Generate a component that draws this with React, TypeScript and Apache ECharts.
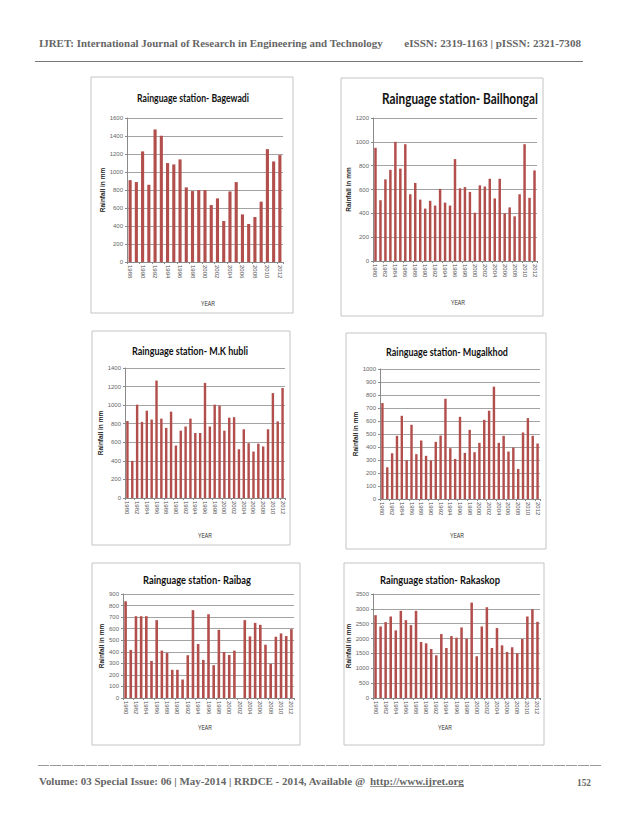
import React, { useEffect, useRef } from "react";
import * as echarts from "echarts";

// ---------- DATA ----------
const yearsBagewadi = ["1988","1989","1990","1991","1992","1993","1994","1995","1996","1997","1998","1999","2000","2001","2002","2003","2004","2005","2006","2007","2008","2009","2010","2011","2012"];
const years1980 = ["1980","1981","1982","1983","1984","1985","1986","1987","1988","1989","1990","1991","1992","1993","1994","1995","1996","1997","1998","1999","2000","2001","2002","2003","2004","2005","2006","2007","2008","2009","2010","2011","2012"];

const rainBagewadi = [910, 888, 1229, 858, 1473, 1403, 1099, 1084, 1140, 829, 788, 799, 799, 633, 707, 455, 784, 888, 529, 422, 500, 670, 1254, 1117, 1188];
const rainBailhongal = [950, 510, 685, 765, 1000, 775, 980, 560, 655, 515, 440, 505, 465, 605, 490, 465, 855, 610, 620, 580, 405, 635, 625, 690, 525, 690, 400, 450, 375, 560, 980, 530, 760];
const rainMKHubli = [830, 400, 1005, 820, 940, 845, 1265, 855, 755, 930, 565, 725, 770, 855, 700, 700, 1240, 770, 1005, 995, 725, 865, 870, 525, 740, 590, 500, 585, 555, 740, 1130, 825, 1185];
const rainMugalkhod = [738, 244, 352, 486, 640, 298, 571, 345, 450, 332, 296, 440, 488, 771, 391, 308, 632, 355, 532, 360, 432, 609, 679, 864, 432, 486, 365, 396, 231, 512, 622, 486, 427];
const rainRaibag = [837, 416, 708, 708, 708, 321, 674, 410, 390, 244, 244, 160, 370, 760, 467, 330, 725, 284, 590, 398, 372, 410, 0, 674, 533, 650, 633, 461, 295, 530, 559, 536, 596];
const rainRakaskop = [2787, 2408, 2553, 2743, 2275, 2933, 2620, 2453, 2933, 1884, 1840, 1650, 1438, 2152, 1684, 2085, 2029, 2375, 1996, 3211, 1405, 2408, 3055, 1684, 2353, 1773, 1550, 1706, 1505, 1985, 2743, 2988, 2565];

const stationTitles = [
  "Rainguage station- Bagewadi",
  "Rainguage station- Bailhongal",
  "Rainguage station- M.K hubli",
  "Rainguage station- Mugalkhod",
  "Rainguage station- Raibag",
  "Rainguage station- Rakaskop",
];
const yAxisMax = [1600, 1200, 1400, 1000, 900, 3500];
const yAxisStep = [200, 200, 200, 100, 100, 500];
const yAxisName = "Rainfall in mm";
const xAxisName = "YEAR";

const headerLeft = "IJRET: International Journal of Research in Engineering and Technology";
const headerRight = "eISSN: 2319-1163 | pISSN: 2321-7308";
const footerLeft = "Volume: 03 Special Issue: 06 | May-2014 | RRDCE - 2014, Available @";
const footerUrl = "http://www.ijret.org";
const footerPage = "152";

// ---------- LAYOUT ----------
const panels = [
  { cats: yearsBagewadi, vals: rainBagewadi, box: [91, 77, 202, 236], grid: [127, 118, 156, 144], tXY: [193, 97], tW: 112, tFs: 12, yrXY: [208, 304], gap: 20 },
  { cats: years1980, vals: rainBailhongal, box: [341, 78, 202, 238], grid: [373, 118, 164, 143], tXY: [460, 98], tW: 156, tFs: 15, yrXY: [458, 303], gap: 20 },
  { cats: years1980, vals: rainMKHubli, box: [92, 331, 198, 214], grid: [125, 368, 160, 130], tXY: [190, 350], tW: 116, tFs: 12, yrXY: [205, 536], gap: 20 },
  { cats: years1980, vals: rainMugalkhod, box: [346, 333, 200, 216], grid: [380, 369, 160, 130], tXY: [447, 351], tW: 122, tFs: 12, yrXY: [457, 536], gap: 20 },
  { cats: years1980, vals: rainRaibag, box: [92, 563, 208, 182], grid: [123, 594, 171, 104], tXY: [197, 579], tW: 108, tFs: 12, yrXY: [205, 728], gap: 18 },
  { cats: years1980, vals: rainRakaskop, box: [344, 563, 200, 182], grid: [373, 594, 167, 104], tXY: [440, 579], tW: 120, tFs: 12, yrXY: [445, 728], gap: 21 },
];

const SERIF = "'Liberation Serif', 'Times New Roman', serif";
const TITLE_FONT = "Lato, 'Liberation Sans', sans-serif";
const SMALL_FONT = "'Liberation Sans', Arial, sans-serif";

let measureCtx: CanvasRenderingContext2D | null = null;
function measure(text: string, font: string): number {
  if (!measureCtx) measureCtx = document.createElement("canvas").getContext("2d");
  if (!measureCtx) return text.length * 5;
  measureCtx.font = font;
  return measureCtx.measureText(text).width;
}

function fitText(text: string, x: number, y: number, targetW: number, fs: number, family: string, weight: string, color: string, align: string) {
  const w = measure(text, `${weight} ${fs}px ${family}`);
  const sx = w > 0 ? targetW / w : 1;
  return {
    type: "text",
    x,
    y,
    scaleX: sx,
    scaleY: 1,
    silent: true,
    style: {
      text,
      fontSize: fs,
      fontFamily: family,
      fontWeight: weight,
      fill: color,
      textAlign: align,
      align,
      textVerticalAlign: "middle",
      verticalAlign: "middle",
    },
  };
}

export default function App() {
  const ref = useRef<HTMLDivElement>(null);

  useEffect(() => {
    if (!ref.current) return;
    const chart = echarts.init(ref.current, null, { renderer: "svg" });

    const grids: any[] = [];
    const xAxes: any[] = [];
    const yAxes: any[] = [];
    const series: any[] = [];
    const graphics: any[] = [];

    panels.forEach((p, i) => {
      grids.push({ left: p.grid[0], top: p.grid[1], width: p.grid[2], height: p.grid[3], containLabel: false });
      xAxes.push({
        type: "category",
        gridIndex: i,
        data: p.cats,
        axisLine: { show: true, lineStyle: { color: "#8a8a8a", width: 1 } },
        axisTick: { show: true, length: 2, lineStyle: { color: "#8a8a8a" } },
        axisLabel: { interval: 1, rotate: -90, fontSize: 6, color: "#555", fontFamily: SMALL_FONT, margin: 3 },
      });
      yAxes.push({
        type: "value",
        gridIndex: i,
        min: 0,
        max: yAxisMax[i],
        interval: yAxisStep[i],
        name: yAxisName,
        nameLocation: "middle",
        nameRotate: 90,
        nameGap: p.gap,
        nameTextStyle: { fontSize: 6.5, fontWeight: "bold", color: "#222", fontFamily: SMALL_FONT },
        axisLine: { show: true, lineStyle: { color: "#8a8a8a", width: 1 } },
        axisTick: { show: true, length: 2, lineStyle: { color: "#8a8a8a" } },
        axisLabel: { fontSize: 6, color: "#666", fontFamily: SMALL_FONT, margin: 4, formatter: (v: number) => String(v) },
        splitLine: { show: true, lineStyle: { color: "#8c8c8c", width: 0.8 } },
      });
      series.push({
        type: "bar",
        xAxisIndex: i,
        yAxisIndex: i,
        data: p.vals,
        barWidth: "50%",
        itemStyle: { color: "#B24F4C" },
      });
      graphics.push({
        type: "rect",
        shape: { x: p.box[0], y: p.box[1], width: p.box[2], height: p.box[3] },
        style: { fill: "none", stroke: "#c4c4c4", lineWidth: 1 },
        silent: true,
        z: 1,
      });
      graphics.push(fitText(stationTitles[i], p.tXY[0], p.tXY[1], p.tW, p.tFs, TITLE_FONT, "bold", "#111", "center"));
      graphics.push(fitText(xAxisName, p.yrXY[0], p.yrXY[1], 14, 6.5, SMALL_FONT, "normal", "#333", "center"));
    });

    // header
    graphics.push(fitText(headerLeft, 39, 44, 344, 10, SERIF, "bold", "#666", "left"));
    graphics.push(fitText(headerRight, 581, 44, 177, 10, SERIF, "bold", "#666", "right"));
    graphics.push({ type: "line", shape: { x1: 35, y1: 61.5, x2: 583, y2: 61.5 }, style: { stroke: "#777", lineWidth: 1 }, silent: true });

    // footer
    graphics.push({ type: "line", shape: { x1: 38, y1: 765.5, x2: 601, y2: 765.5 }, style: { stroke: "#9a9a9a", lineWidth: 1, lineDash: [11, 1] }, silent: true });
    graphics.push(fitText(footerLeft, 39, 782, 327, 10, SERIF, "bold", "#666", "left"));
    graphics.push(fitText(footerUrl, 370, 782, 94, 10, SERIF, "bold", "#666", "left"));
    graphics.push({ type: "line", shape: { x1: 370, y1: 786.5, x2: 464, y2: 786.5 }, style: { stroke: "#777", lineWidth: 0.8 }, silent: true });
    graphics.push(fitText(footerPage, 591, 782, 14, 10, SERIF, "bold", "#666", "right"));

    chart.setOption({
      animation: false,
      backgroundColor: "#ffffff",
      grid: grids,
      xAxis: xAxes,
      yAxis: yAxes,
      series,
      graphic: { elements: graphics },
    });

    return () => {
      chart.dispose();
    };
  }, []);

  return (
    <div
      ref={ref}
      style={{ position: "absolute", left: 0, top: 0, width: 638, height: 826, background: "#fff" }}
    />
  );
}
